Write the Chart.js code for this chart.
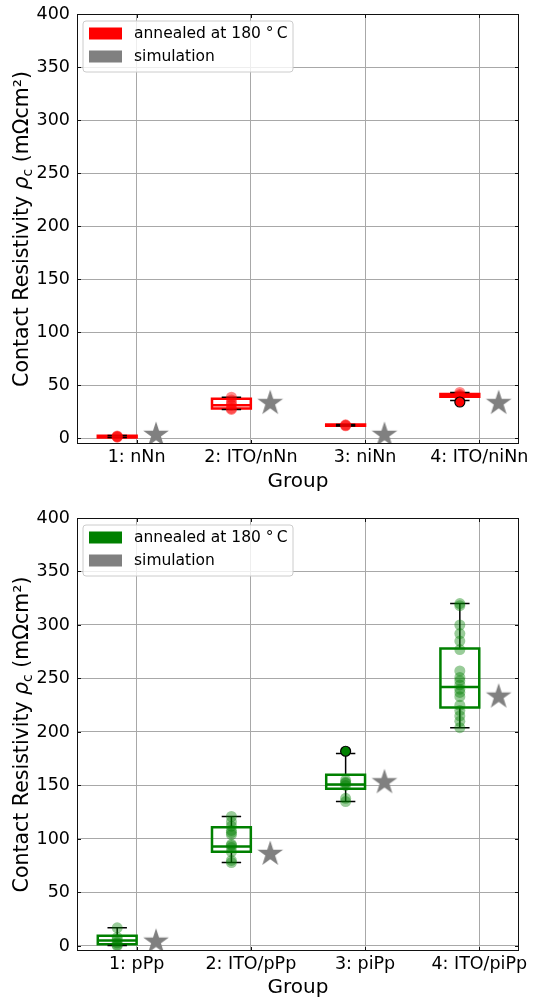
<!DOCTYPE html>
<html>
<head>
<meta charset="utf-8">
<script src="https://cdn.jsdelivr.net/npm/chart.js@4.4.0/dist/chart.umd.min.js"></script>
<style>
  body { margin: 0; background: #fff; }
  .panel { position: absolute; left: 0; width: 533px; height: 500px; }
</style>
</head>
<body>
<div class="panel" style="top:0"><canvas id="chartN" width="533" height="500"></canvas></div>
<div class="panel" style="top:500px"><canvas id="chartP" width="533" height="500"></canvas></div>
<script>
// ---- data: n-type groups (top panel) ----
const categoriesN = ['1: nNn', '2: ITO/nNn', '3: niNn', '4: ITO/niNn'];
const nWhiskerLo = [0.5, 27, 11.4, 35.5];
const nQ1 = [0.6, 28, 11.5, 39];
const nMedian = [1.2, 31, 12, 40];
const nQ3 = [2.2, 37, 12.8, 41.5];
const nWhiskerHi = [2.3, 38.5, 12.9, 43];
const nPoints = [
  [0.8, 1.2, 1.5, 2],
  [27, 28, 31, 33, 36, 38.5],
  [11.6, 12, 12.5],
  [39, 40, 41, 43]
];
const nFliers = [[], [], [], [34]];
const nSimulation = [3, 33, 3, 33];

// ---- data: p-type groups (bottom panel) ----
const categoriesP = ['1: pPp', '2: ITO/pPp', '3: piPp', '4: ITO/piPp'];
const pWhiskerLo = [0.5, 78, 135, 204];
const pQ1 = [1.5, 88, 147, 223];
const pMedian = [5, 93, 151, 242];
const pQ3 = [9.5, 111, 160, 278];
const pWhiskerHi = [17, 121, 180, 320];
const pPoints = [
  [0, 1, 3, 6, 8, 17],
  [78, 80, 88, 92, 94, 95, 104, 106, 108, 112, 116, 121],
  [135, 138, 150, 152, 153, 155],
  [204, 210, 215, 220, 225, 233, 237, 240, 244, 248, 251, 257, 277, 285, 292, 300, 318, 320]
];
const pFliers = [[], [], [182], []];
const pSimulation = [4, 86, 153, 233];

const yTicks = [0, 50, 100, 150, 200, 250, 300, 350, 400];

const FONT = 'DejaVu Sans';
const GRID = '#a8a8a8';
const BOX_SHIFT = 0.17, BOX_W = 0.34, CAP_W = 0.17, STAR_SHIFT = 0.17;

function makeStar(r) {
  const c = document.createElement('canvas');
  const s = Math.ceil(r * 2 + 3);
  c.width = s; c.height = s;
  const g = c.getContext('2d');
  g.fillStyle = '#808080';
  g.beginPath();
  for (let k = 0; k < 10; k++) {
    const rad = k % 2 ? r * 0.382 : r;
    const a = -Math.PI / 2 + k * Math.PI / 5;
    g.lineTo(s / 2 + rad * Math.cos(a), s / 2 + rad * Math.sin(a));
  }
  g.closePath();
  g.fill();
  return c;
}
const star = makeStar(13.5);

const framePlugin = {
  id: 'frame',
  afterDraw(chart) {
    const {ctx, chartArea: a, scales} = chart;
    ctx.save();
    ctx.strokeStyle = '#111';
    ctx.lineWidth = 1;
    ctx.strokeRect(a.left + 0.5, a.top + 0.5, a.right - a.left - 1, a.bottom - a.top - 1);
    ctx.beginPath();
    scales.x.ticks.forEach(t => {
      const px = Math.round(scales.x.getPixelForValue(t.value)) + 0.5;
      ctx.moveTo(px, a.bottom); ctx.lineTo(px, a.bottom - 4);
      ctx.moveTo(px, a.top); ctx.lineTo(px, a.top + 4);
    });
    scales.y.ticks.forEach(t => {
      const py = Math.round(scales.y.getPixelForValue(t.value)) + 0.5;
      ctx.moveTo(a.left, py); ctx.lineTo(a.left + 4, py);
      ctx.moveTo(a.right, py); ctx.lineTo(a.right - 4, py);
    });
    ctx.stroke();
    ctx.restore();
  }
};

const yTitlePlugin = {
  id: 'yTitle',
  afterDraw(chart) {
    const {ctx, chartArea: a} = chart;
    const parts = [
      {t: 'Contact Resistivity ', f: '20.5px "' + FONT + '"', dy: 0},
      {t: 'ρ', f: 'italic 20.5px "' + FONT + '"', dy: 0},
      {t: 'c', f: '14px "' + FONT + '"', dy: 4},
      {t: ' (mΩcm²)', f: '20.5px "' + FONT + '"', dy: 0}
    ];
    ctx.save();
    let total = 0;
    parts.forEach(p => { ctx.font = p.f; p.w = ctx.measureText(p.t).width; total += p.w; });
    ctx.translate(28, (a.top + a.bottom) / 2);
    ctx.rotate(-Math.PI / 2);
    ctx.fillStyle = '#000';
    ctx.textBaseline = 'alphabetic';
    let x = -total / 2;
    parts.forEach(p => { ctx.font = p.f; ctx.fillText(p.t, x, p.dy); x += p.w; });
    ctx.restore();
  }
};

const legendPlugin = {
  id: 'boxLegend',
  afterDraw(chart, args, opts) {
    const {ctx, chartArea: a} = chart;
    const x0 = a.left + 6, y0 = a.top + 7, w = 210, h = 51, r = 3;
    ctx.save();
    ctx.beginPath();
    ctx.moveTo(x0 + r, y0);
    ctx.arcTo(x0 + w, y0, x0 + w, y0 + h, r);
    ctx.arcTo(x0 + w, y0 + h, x0, y0 + h, r);
    ctx.arcTo(x0, y0 + h, x0, y0, r);
    ctx.arcTo(x0, y0, x0 + w, y0, r);
    ctx.closePath();
    ctx.fillStyle = 'rgba(255,255,255,0.8)';
    ctx.fill();
    ctx.strokeStyle = '#cccccc';
    ctx.lineWidth = 1;
    ctx.stroke();
    ctx.font = '15.5px "' + FONT + '"';
    ctx.textBaseline = 'middle';
    opts.items.forEach((it, k) => {
      const cy = y0 + 12.5 + k * 23;
      ctx.fillStyle = it.color;
      ctx.fillRect(x0 + 6, cy - 6, 33, 12);
      ctx.fillStyle = '#000';
      ctx.fillText(it.label, x0 + 51, cy);
    });
    ctx.restore();
  }
};

function boxDatasets(lo, q1, med, q3, hi, points, fliers, sim, color, pointColor) {
  const boxes = [], medians = [], whiskers = [], caps = [], dots = [], outl = [], stars = [];
  q1.forEach((v, i) => {
    const c = i + 1 - BOX_SHIFT, l = c - BOX_W / 2, r = c + BOX_W / 2;
    boxes.push({x: c, y: q1[i]}, {x: r, y: q1[i]}, {x: r, y: q3[i]}, {x: l, y: q3[i]},
               {x: l, y: q1[i]}, {x: c, y: q1[i]}, {x: c, y: null});
    medians.push({x: l, y: med[i]}, {x: r, y: med[i]}, {x: r, y: null});
    whiskers.push({x: c, y: q3[i]}, {x: c, y: hi[i]}, {x: c, y: null},
                  {x: c, y: q1[i]}, {x: c, y: lo[i]}, {x: c, y: null});
    caps.push({x: c - CAP_W / 2, y: hi[i]}, {x: c + CAP_W / 2, y: hi[i]}, {x: c, y: null},
              {x: c - CAP_W / 2, y: lo[i]}, {x: c + CAP_W / 2, y: lo[i]}, {x: c, y: null});
    points[i].forEach(p => dots.push({x: c, y: p}));
    fliers[i].forEach(p => outl.push({x: c, y: p}));
    stars.push({x: i + 1 + STAR_SHIFT, y: sim[i]});
  });
  const lineBase = {type: 'line', showLine: true, pointRadius: 0, fill: false, tension: 0, spanGaps: false};
  return [
    {type: 'scatter', data: outl, pointRadius: 5, backgroundColor: color, borderColor: '#000', borderWidth: 1.2, order: 0},
    {type: 'scatter', data: dots, pointRadius: 5.5, backgroundColor: pointColor, borderColor: pointColor, borderWidth: 0, order: 1},
    {type: 'scatter', data: stars, pointStyle: star, pointRadius: 13, order: 2},
    Object.assign({data: caps, borderColor: '#000', borderWidth: 1.5, order: 3}, lineBase),
    Object.assign({data: whiskers, borderColor: '#000', borderWidth: 1.5, order: 4}, lineBase),
    Object.assign({data: medians, borderColor: color, borderWidth: 2.5, order: 3}, lineBase),
    Object.assign({data: boxes, borderColor: color, borderWidth: 2.5, borderJoinStyle: 'miter', order: 3}, lineBase)
  ];
}

function buildChart(id, cats, datasets, color, yMin, padTop, xHeight, titlePad) {
  return new Chart(document.getElementById(id), {
    data: {datasets: datasets},
    plugins: [framePlugin, yTitlePlugin, legendPlugin],
    options: {
      responsive: false,
      animation: false,
      devicePixelRatio: 1,
      layout: {padding: {top: padTop, right: 11, left: 0, bottom: 0}},
      plugins: {
        legend: {display: false},
        tooltip: {enabled: false},
        boxLegend: {items: [{label: 'annealed at 180 °\u2009C', color: color}, {label: 'simulation', color: '#808080'}]}
      },
      scales: {
        x: {
          type: 'linear', min: 0.478, max: 4.348,
          afterBuildTicks: s => { s.ticks = cats.map((c, i) => ({value: i + 1})); },
          afterFit: s => { s.height = xHeight; s.paddingLeft = 0; s.paddingRight = 0; },
          ticks: {callback: (v, i) => cats[i], font: {family: FONT, size: 17.5}, color: '#000', padding: 3, maxRotation: 0, autoSkip: false},
          grid: {color: GRID, lineWidth: 1, drawTicks: false},
          border: {display: false},
          title: {display: true, text: 'Group', font: {family: FONT, size: 20}, color: '#000', padding: {top: 0, bottom: titlePad}}
        },
        y: {
          type: 'linear', min: yMin, max: 400,
          afterBuildTicks: s => { s.ticks = yTicks.map(v => ({value: v})); },
          afterFit: s => { s.width = 77; s.paddingTop = 0; s.paddingBottom = 0; },
          ticks: {font: {family: FONT, size: 17.5}, color: '#000', padding: 7},
          grid: {color: GRID, lineWidth: 1, drawTicks: false},
          border: {display: false}
        }
      }
    }
  });
}

buildChart('chartN', categoriesN,
  boxDatasets(nWhiskerLo, nQ1, nMedian, nQ3, nWhiskerHi, nPoints, nFliers, nSimulation, '#ff0000', 'rgba(255,0,0,0.45)'),
  '#ff0000', -5.6, 12, 56, 6);
buildChart('chartP', categoriesP,
  boxDatasets(pWhiskerLo, pQ1, pMedian, pQ3, pWhiskerHi, pPoints, pFliers, pSimulation, '#008000', 'rgba(0,128,0,0.4)'),
  '#008000', -4.7, 18, 49, 0);
</script>
</body>
</html>
